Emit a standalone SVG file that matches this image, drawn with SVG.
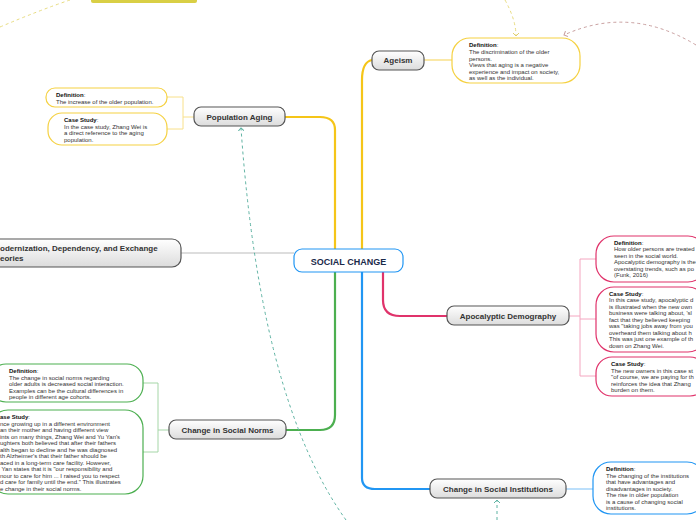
<svg xmlns="http://www.w3.org/2000/svg" width="696" height="520" viewBox="0 0 696 520">
<defs>
<linearGradient id="tg" x1="0" y1="0" x2="0" y2="1"><stop offset="0" stop-color="#ffffff"/><stop offset="1" stop-color="#dcdcdc"/></linearGradient>
<marker id="ay" markerWidth="6" markerHeight="6" refX="3" refY="3" orient="auto"><path d="M0,0 L3,3 L0,6" fill="none" stroke="#e0cf70" stroke-width="1"/></marker>
<marker id="at" markerWidth="6" markerHeight="6" refX="3" refY="3" orient="auto"><path d="M0,0 L3,3 L0,6" fill="none" stroke="#5fb3a3" stroke-width="1"/></marker>
<marker id="ab" markerWidth="6" markerHeight="6" refX="3" refY="3" orient="auto"><path d="M0,0 L3,3 L0,6" fill="none" stroke="#c9a0a0" stroke-width="1"/></marker>
</defs>
<style>
.topic{fill:url(#tg);stroke:#555;stroke-width:1.2}
.tt{font-family:"Liberation Sans",Arial,sans-serif;font-size:8px;font-weight:bold;fill:#333;text-anchor:middle}
.nt{font-family:"Liberation Sans",Arial,sans-serif;font-size:6px;fill:#333}
.nb{font-weight:bold;fill:#111}
.note{fill:#fff;stroke-width:1.2}
.y{stroke:#f5d142}.p{stroke:#e0336b}.g{stroke:#4caf50}.b{stroke:#2196f3}
</style>
<g id="connectors" fill="none">
<path d="M362,250 V80 Q362,62 372,60" stroke="#f5c518" stroke-width="2.2"/>
<path d="M424,60 H452" stroke="#f8e08a" stroke-width="1.5"/>
<path d="M335,250 V130 Q335,117 320,117 H285" stroke="#f5c518" stroke-width="2.2"/>
<path d="M194,117 H183 M183,97 H167 M183,97 V129 H167" stroke="#f8e08a" stroke-width="1"/>
<path d="M294,253 H181" stroke="#bbbbbb" stroke-width="1.2"/>
<path d="M335,272 V415 Q335,430 320,430 H286" stroke="#4caf50" stroke-width="2.2"/>
<path d="M169,430 H158 M158,383 H143 M158,383 V452 H143" stroke="#a5d6a7" stroke-width="1"/>
<path d="M383,272 V300 Q383,316 400,316 H447" stroke="#e0336b" stroke-width="2.2"/>
<path d="M569,316 H580 M580,259 H596 M580,259 V376 H596 M580,319 H596" stroke="#f4a6c0" stroke-width="1"/>
<path d="M362,272 V478 Q362,489 375,489 H430" stroke="#2196f3" stroke-width="2.2"/>
<path d="M566,489 H593" stroke="#90caf9" stroke-width="1.2"/>
<path d="M0,27 Q40,10 70,0" stroke="#e8dc80" stroke-width="1" stroke-dasharray="3,3"/>
<path d="M505,0 Q516,20 516,36" stroke="#e8dc80" stroke-width="1" stroke-dasharray="3,3" marker-end="url(#ay)"/>
<path d="M696,45 Q630,5 564,35" stroke="#c9a0a0" stroke-width="1" stroke-dasharray="3,3" marker-end="url(#ab)"/>
<path d="M346,520 Q260,400 241,128" stroke="#5fb3a3" stroke-width="1" stroke-dasharray="3,3" marker-end="url(#at)"/>
<path d="M497,520 V500" stroke="#5fb3a3" stroke-width="1" stroke-dasharray="3,3" marker-end="url(#at)"/>
</g>
<rect x="91" y="-4" width="106" height="7" rx="2" fill="#d9cf45"/>
<g id="center"><rect x="294" y="249" width="109" height="23" rx="8" fill="#fff" stroke="#2196f3" stroke-width="1.2"/><text x="348.5" y="265" class="tt" style="font-size:9px;fill:#1a2a4a">SOCIAL CHANGE</text></g>
<g id="ageism"><rect x="372" y="51" width="52" height="19" rx="7" class="topic"/><text x="398" y="63" class="tt">Ageism</text></g>
<g id="ageism-def"><rect x="452" y="38" width="128" height="45" rx="18" class="note y"/><text class="nt" x="469"><tspan x="469" y="47" class="nb">Definition</tspan><tspan>:</tspan><tspan x="469" y="54">The discrimination of the older</tspan><tspan x="469" y="61">persons.</tspan><tspan x="469" y="67">Views that aging is a negative</tspan><tspan x="469" y="74">experience and impact on society,</tspan><tspan x="469" y="80">as well as the individual.</tspan></text></g>
<g id="pop"><rect x="194" y="107" width="91" height="19" rx="7" class="topic"/><text x="239.5" y="120" class="tt">Population Aging</text></g>
<g id="pop-def"><rect x="46" y="88" width="121" height="19" rx="9" class="note y"/><text class="nt"><tspan x="56" y="97" class="nb">Definition</tspan><tspan>:</tspan><tspan x="56" y="104">The increase of the older population.</tspan></text></g>
<g id="pop-case"><rect x="48" y="113" width="119" height="32" rx="14" class="note y"/><text class="nt"><tspan x="64" y="122" class="nb">Case Study</tspan><tspan>:</tspan><tspan x="64" y="129">In the case study, Zhang Wei is</tspan><tspan x="64" y="135">a direct reference to the aging</tspan><tspan x="64" y="142">population.</tspan></text></g>
<g id="modern"><rect x="-12" y="239" width="193" height="28" rx="9" class="topic"/><text class="tt" style="text-anchor:start"><tspan x="0" y="251">odernization, Dependency, and Exchange</tspan><tspan x="0" y="261">eories</tspan></text></g>
<g id="apoc"><rect x="447" y="306" width="122" height="19" rx="7" class="topic"/><text x="508" y="319" class="tt">Apocalyptic Demography</text></g>
<g id="apoc-def"><rect x="596" y="236" width="110" height="46" rx="18" class="note p"/><text class="nt"><tspan x="614" y="245" class="nb">Definition</tspan><tspan>:</tspan><tspan x="614" y="251">How older persons are treated</tspan><tspan x="614" y="258">seen in the social world.</tspan><tspan x="614" y="264">Apocalyptic demography is the</tspan><tspan x="614" y="271">overstating trends, such as po</tspan><tspan x="614" y="277">(Funk, 2016)</tspan></text></g>
<g id="apoc-case1"><rect x="596" y="287" width="110" height="65" rx="18" class="note p"/><text class="nt"><tspan x="609" y="296" class="nb">Case Study</tspan><tspan>:</tspan><tspan x="609" y="302">In this case study, apocalyptic d</tspan><tspan x="609" y="309">is illustrated when the new own</tspan><tspan x="609" y="315">business were talking about, 'sl</tspan><tspan x="609" y="322">fact that they believed keeping</tspan><tspan x="609" y="328">was "taking jobs away from you</tspan><tspan x="609" y="335">overheard them talking about h</tspan><tspan x="609" y="341">This was just one example of th</tspan><tspan x="609" y="348">down on Zhang Wei.</tspan></text></g>
<g id="apoc-case2"><rect x="596" y="357" width="110" height="39" rx="16" class="note p"/><text class="nt"><tspan x="611" y="366" class="nb">Case Study</tspan><tspan>:</tspan><tspan x="611" y="373">The new owners in this case st</tspan><tspan x="611" y="379">"of course, we are paying for th</tspan><tspan x="611" y="386">reinforces the idea that Zhang</tspan><tspan x="611" y="392">burden on them.</tspan></text></g>
<g id="norms"><rect x="169" y="420" width="117" height="19" rx="7" class="topic"/><text x="227.5" y="433" class="tt">Change in Social Norms</text></g>
<g id="norms-def"><rect x="-10" y="364" width="153" height="38" rx="16" class="note g"/><text class="nt"><tspan x="9" y="373" class="nb">Definition</tspan><tspan>:</tspan><tspan x="9" y="380">The change in social norms regarding</tspan><tspan x="9" y="386">older adults is decreased social interaction.</tspan><tspan x="9" y="393">Examples can be the cultural differences in</tspan><tspan x="9" y="399">people in different age cohorts.</tspan></text></g>
<g id="norms-case"><rect x="-10" y="410" width="153" height="84" rx="18" class="note g"/><text class="nt"><tspan x="0" y="419" class="nb">ase Study</tspan><tspan>:</tspan><tspan x="0" y="426">nce growing up in a different environment</tspan><tspan x="0" y="432">an their mother and having different view</tspan><tspan x="0" y="439">ints on many things, Zhang Wei and Yu Yan's</tspan><tspan x="0" y="445">ughters both believed that after their fathers</tspan><tspan x="0" y="452">alth began to decline and he was diagnosed</tspan><tspan x="0" y="458">th Alzheimer's that their father should be</tspan><tspan x="0" y="465">aced in a long-term care facility. However,</tspan><tspan x="0" y="471"> Yan states that it is "our responsibility and</tspan><tspan x="0" y="478">nour to care for him ... I raised you to respect</tspan><tspan x="0" y="484">d care for family until the end." This illustrates</tspan><tspan x="0" y="491">e change in their social norms.</tspan></text></g>
<g id="inst"><rect x="430" y="479" width="136" height="19" rx="7" class="topic"/><text x="498" y="492" class="tt">Change in Social Institutions</text></g>
<g id="inst-def"><rect x="593" y="462" width="112" height="52" rx="18" class="note b"/><text class="nt"><tspan x="606" y="471" class="nb">Definition</tspan><tspan>:</tspan><tspan x="606" y="478">The changing of the institutions</tspan><tspan x="606" y="484">that have advantages and</tspan><tspan x="606" y="491">disadvantages in society.</tspan><tspan x="606" y="497">The rise in older population</tspan><tspan x="606" y="504">is a cause of changing social</tspan><tspan x="606" y="510">institutions.</tspan></text></g>
</svg>
